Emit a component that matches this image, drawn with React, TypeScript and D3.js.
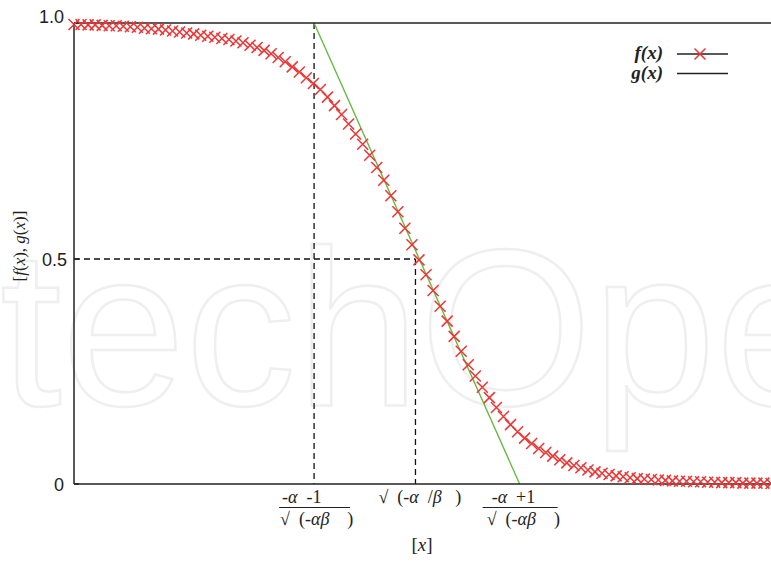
import React from "react";
import * as d3 from "d3";

// f(x) samples (100 equally spaced samples)
const fValues = [
  0.997, 0.997, 0.996, 0.996, 0.995, 0.994, 0.994, 0.993, 0.992, 0.991,
  0.989, 0.988, 0.987, 0.985, 0.983, 0.981, 0.979, 0.977, 0.974, 0.972,
  0.970, 0.967, 0.965, 0.962, 0.958, 0.953, 0.948, 0.942, 0.935, 0.927,
  0.918, 0.907, 0.896, 0.884, 0.872, 0.859, 0.843, 0.825, 0.806, 0.786,
  0.765, 0.743, 0.720, 0.694, 0.667, 0.634, 0.600, 0.565, 0.530, 0.498,
  0.465, 0.430, 0.395, 0.362, 0.328, 0.295, 0.265, 0.240, 0.215, 0.192,
  0.170, 0.150, 0.132, 0.116, 0.102, 0.090, 0.079, 0.070, 0.062, 0.054,
  0.047, 0.041, 0.036, 0.031, 0.027, 0.024, 0.021, 0.018, 0.016, 0.014,
  0.012, 0.011, 0.010, 0.009, 0.008, 0.007, 0.006, 0.006, 0.005, 0.005,
  0.004, 0.004, 0.003, 0.003, 0.003, 0.002, 0.002, 0.002, 0.002, 0.001,
];

const yTicks = [0, 0.5, 1.0];
const yTickLabels = ["0", "0.5", "1.0"];
// special x positions (in sample units): left root, midpoint, right root
const guideX = [34.1, 48.5, 63.3];
// tangent g(x): from (guideX[0], 1) to (guideX[2], 0)
const tangentX = [34.1, 63.3];
const tangentY = [1, 0];
const legendLabels = ["f(x)", "g(x)"];
const watermark = "techOpen";

const W = 771;
const H = 561;
const RED = "#f03434";
const GREEN = "#66bb44";
const SERIF = "'Liberation Serif', 'Times New Roman', serif";
const SANS = "'Liberation Sans', Arial, Helvetica, sans-serif";

export default function App() {
  const x = d3.scaleLinear().domain([0, fValues.length - 1]).range([74, 771]);
  const y = d3.scaleLinear().domain([0, 0.5, 1]).range([484, 259, 23]);

  const crossPath = "M-5.5,-5.5L5.5,5.5M-5.5,5.5L5.5,-5.5";
  const tangentLine = d3
    .line<number>()
    .x((d, i) => x(tangentX[i]))
    .y((d) => y(d))(tangentY);

  const [xl, xm, xr] = guideX;
  const it = (s: string) => <tspan fontStyle="italic">{s}</tspan>;
  const FS = 18;

  const frac = (
    cx: number,
    numDx: number,
    denDx: number,
    barL: number,
    barR: number,
    num: React.ReactNode,
    den: React.ReactNode,
    key: string
  ) => (
    <g key={key} fill="#222">
      <text x={cx + numDx} y={503} fontFamily={SERIF} fontSize={FS} xmlSpace="preserve">
        {num}
      </text>
      <line x1={cx + barL} x2={cx + barR} y1={507.5} y2={507.5} stroke="#222" strokeWidth={1.2} />
      <text x={cx + denDx} y={525} fontFamily={SERIF} fontSize={FS} xmlSpace="preserve">
        {den}
      </text>
    </g>
  );

  return (
    <svg
      width={W}
      height={H}
      style={{ position: "absolute", left: 0, top: 0, background: "#fff" }}
    >
      <rect x={0} y={0} width={W} height={H} fill="#fff" />
      {/* watermark */}
      <text
        x={0}
        y={405}
        fontFamily={SANS}
        fontSize={222}
        fill="none"
        stroke="#efefef"
        strokeWidth={2.5}
      >
        {watermark}
      </text>

      {/* guide dashed lines */}
      <g stroke="#111" strokeWidth={1.3} strokeDasharray="6,4" fill="none">
        <line x1={x(xl)} x2={x(xl)} y1={y(1)} y2={y(0)} />
        <line x1={x(xm)} x2={x(xm)} y1={y(0.5)} y2={y(0)} />
        <line x1={x(0)} x2={x(xm)} y1={y(0.5)} y2={y(0.5)} />
      </g>

      {/* tangent g(x) */}
      <path d={tangentLine || ""} stroke={GREEN} strokeWidth={1.4} fill="none" />

      {/* axes / frame */}
      <g stroke="#222" strokeWidth={1.5} fill="none">
        <line x1={x(0)} x2={W} y1={y(1)} y2={y(1)} />
        <line x1={x(0)} x2={x(0)} y1={y(1)} y2={y(0)} />
        <line x1={x(0)} x2={W} y1={y(0)} y2={y(0)} />
        {yTicks.map((t) => (
          <line key={t} x1={x(0)} x2={x(0) + 5} y1={y(t)} y2={y(t)} />
        ))}
      </g>

      {/* f(x) markers */}
      <g stroke={RED} strokeWidth={1.5} fill="none">
        {fValues.map((v, i) => (
          <path key={i} d={crossPath} transform={`translate(${x(i)},${y(v)})`} />
        ))}
      </g>

      {/* y tick labels */}
      {yTicks.map((t, i) => (
        <text
          key={t}
          x={t === 0.5 ? 67 : 64}
          y={y(t) + (t === 1 ? 0 : 7)}
          textAnchor="end"
          fontFamily={SANS}
          fontSize={18}
          fill="#222"
        >
          {yTickLabels[i]}
        </text>
      ))}

      {/* y axis title */}
      <text
        transform="translate(25,246) rotate(-90)"
        textAnchor="middle"
        fontFamily={SERIF}
        fontSize={17}
        fill="#222"
      >
        [{it("f")}({it("x")}), {it("g")}({it("x")})]
      </text>

      {/* x labels */}
      {frac(
        x(xl),
        -32,
        -34,
        -35,
        36,
        <>-{it("α")}  -1</>,
        <>√  (-{it("αβ")}    )</>,
        "l"
      )}
      <text x={x(xm) - 37} y={503} fontFamily={SERIF} fontSize={FS} xmlSpace="preserve" fill="#222">
        √  (-{it("α")}  /{it("β")}   )
      </text>
      {frac(
        x(xr),
        -28,
        -33,
        -37,
        38,
        <>-{it("α")}  +1</>,
        <>√  (-{it("αβ")}    )</>,
        "r"
      )}
      <text x={422} y={551} textAnchor="middle" fontFamily={SERIF} fontSize={19} fill="#222">
        [{it("x")}]
      </text>

      {/* legend */}
      {legendLabels.map((lab, i) => {
        const ly = 54 + i * 19.5;
        return (
          <g key={lab}>
            <text
              x={663}
              y={ly + 5}
              textAnchor="end"
              fontFamily={SERIF}
              fontSize={19}
              fontWeight="bold"
              fontStyle="italic"
              fill="#222"
            >
              {lab}
            </text>
            <line x1={677} x2={728} y1={ly} y2={ly} stroke="#222" strokeWidth={1.5} />
            {i === 0 && (
              <path d={crossPath} transform={`translate(700,${ly})`} stroke={RED} strokeWidth={1.5} fill="none" />
            )}
          </g>
        );
      })}
    </svg>
  );
}
